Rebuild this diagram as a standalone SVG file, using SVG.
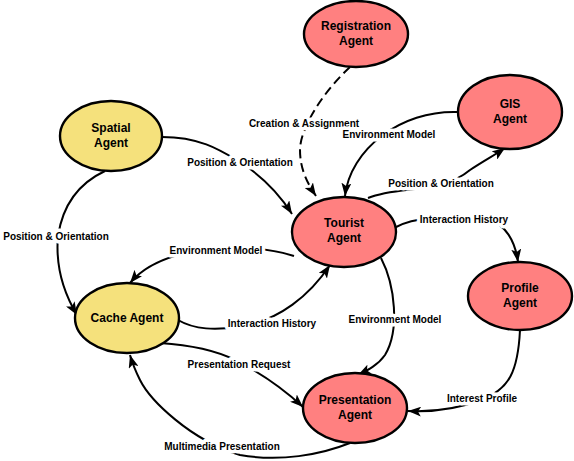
<svg xmlns="http://www.w3.org/2000/svg" width="574" height="461" viewBox="0 0 574 461">
<defs>
<style>
.red{fill:#FF8080;stroke:#000;stroke-width:2.4}
.yel{fill:#F5E17C;stroke:#000;stroke-width:2.4}
.nl{font-family:"Liberation Sans",Arial,sans-serif;font-size:12px;font-weight:bold;fill:#000;text-anchor:middle}
.el{font-family:"Liberation Sans",Arial,sans-serif;font-size:10px;font-weight:bold;fill:#000;text-anchor:middle;stroke:#fff;stroke-width:7;paint-order:stroke;stroke-linejoin:round}
.e{fill:none;stroke:#000;stroke-width:2;marker-end:url(#ah)}
.d{stroke-dasharray:9,5}
</style>
<marker id="ah" markerUnits="userSpaceOnUse" markerWidth="14" markerHeight="10" refX="13" refY="5" orient="auto">
<path d="M0,0 L13,5 L0,10 L3,5 Z" fill="#000"/>
</marker>
</defs>
<rect width="574" height="461" fill="#fff"/>
<g id="connectors">
<path class="e d" d="M 350 67 C 320 95, 300 130, 300 150 C 300 170, 308 184, 316 196"/>
<path class="e" d="M 458 112 C 400 110, 350 150, 345 196"/>
<path class="e" d="M 368 198 C 400 185, 440 195, 470 170 C 485 160, 495 155, 505 148"/>
<path class="e" d="M 162 137 C 200 137, 220 150, 240 162 C 265 178, 280 195, 292 214"/>
<path class="e" d="M 105 171 C 75 185, 62 210, 58 236 C 55 270, 65 295, 77 315"/>
<path class="e" d="M 294 256 C 270 248, 230 245, 200 250 C 170 255, 145 265, 130 283"/>
<path class="e" d="M 178 320 C 195 330, 215 330, 240 327 C 280 320, 310 295, 330 265"/>
<path class="e" d="M 394 228 C 405 222, 415 219, 430 219 L 490 220 C 505 225, 515 240, 518 262"/>
<path class="e" d="M 381 258 C 395 285, 400 330, 385 355 C 378 365, 368 370, 358 375"/>
<path class="e" d="M 160 343 C 190 345, 215 350, 235 360 C 265 375, 290 395, 303 407"/>
<path class="e" d="M 520 330 C 518 370, 510 390, 480 400 C 455 410, 430 412, 408 411"/>
<path class="e" d="M 350 443 C 320 455, 280 462, 240 455 C 190 440, 150 400, 140 380 C 135 370, 132 362, 130 355"/>
<text class="el" x="304" y="127">Creation &amp; Assignment</text>
<text class="el" x="389" y="138">Environment Model</text>
<text class="el" x="240" y="166">Position &amp; Orientation</text>
<text class="el" x="441" y="187">Position &amp; Orientation</text>
<text class="el" x="56" y="240">Position &amp; Orientation</text>
<text class="el" x="216" y="254">Environment Model</text>
<text class="el" x="464" y="223">Interaction History</text>
<text class="el" x="272" y="327">Interaction History</text>
<text class="el" x="395" y="323">Environment Model</text>
<text class="el" x="239" y="368">Presentation Request</text>
<text class="el" x="482" y="402">Interest Profile</text>
<text class="el" x="222" y="450">Multimedia Presentation</text>
</g>
<g id="registration">
<ellipse class="red" cx="356" cy="34" rx="52" ry="33"/>
<text class="nl" x="356" y="30">Registration</text>
<text class="nl" x="356" y="45">Agent</text>
</g>
<g id="spatial">
<ellipse class="yel" cx="111" cy="136" rx="51" ry="35"/>
<text class="nl" x="111" y="132">Spatial</text>
<text class="nl" x="111" y="147">Agent</text>
</g>
<g id="gis">
<ellipse class="red" cx="510" cy="112" rx="52" ry="37"/>
<text class="nl" x="510" y="108">GIS</text>
<text class="nl" x="510" y="123">Agent</text>
</g>
<g id="tourist">
<ellipse class="red" cx="344" cy="232" rx="52" ry="35"/>
<text class="nl" x="344" y="227">Tourist</text>
<text class="nl" x="344" y="242">Agent</text>
</g>
<g id="profile">
<ellipse class="red" cx="520" cy="296" rx="52" ry="34"/>
<text class="nl" x="520" y="292">Profile</text>
<text class="nl" x="520" y="307">Agent</text>
</g>
<g id="cache">
<ellipse class="yel" cx="127" cy="318" rx="52" ry="35"/>
<text class="nl" x="127" y="322">Cache Agent</text>
</g>
<g id="presentation">
<ellipse class="red" cx="355" cy="408" rx="52" ry="35"/>
<text class="nl" x="355" y="404">Presentation</text>
<text class="nl" x="355" y="419">Agent</text>
</g>
</svg>
